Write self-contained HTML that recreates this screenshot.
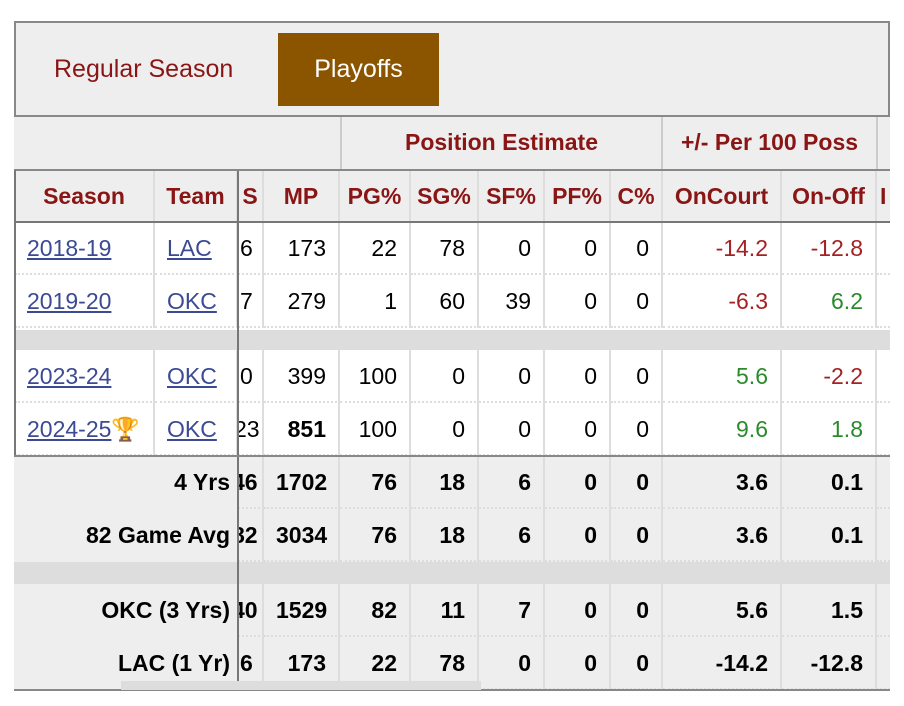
<!DOCTYPE html>
<html><head><meta charset="utf-8">
<style>
body{margin:0;width:904px;height:706px;background:#fff;position:relative;overflow:hidden;font-family:"Liberation Sans","Noto Sans CJK SC",sans-serif;}
.a{position:absolute;box-sizing:border-box;}
.c{position:absolute;box-sizing:border-box;font-size:23px;line-height:53px;height:53px;padding:0 12px;white-space:nowrap;overflow:hidden;border-right:2px solid #ddd;}
.r{text-align:right}.b{font-weight:bold}
.hd{color:#8a1515;font-weight:bold;text-align:center;padding:0 2px;}
a{color:#3b4a93;text-decoration:underline;}
.neg{color:#a52222}.pos{color:#2b8a2b}
</style></head><body>
<div class="a" style="left:14px;top:21px;width:876px;height:96px;background:#eee;border:2px solid #888;"></div>
<div class="a" style="left:54px;top:55px;font-size:25px;color:#8a1515;">Regular Season</div>
<div class="a" style="left:278px;top:33px;width:161px;height:73px;background:#8b5500;color:#fff;font-size:25px;line-height:73px;text-align:center;">Playoffs</div>
<div class="a" style="left:14px;top:117px;width:876px;height:53px;background:#eee;"></div>
<div class="a" style="left:340px;top:117px;width:323px;height:53px;border-left:2px solid #ccc;border-right:2px solid #ccc;color:#8a1515;font-weight:bold;font-size:23px;line-height:50px;text-align:center;">Position Estimate</div>
<div class="a" style="left:663px;top:117px;width:215px;height:53px;border-right:2px solid #ccc;color:#8a1515;font-weight:bold;font-size:23px;line-height:50px;text-align:center;">+/- Per 100 Poss</div>
<div id="t"></div>
<div class="a" style="left:237px;top:170px;width:2px;height:520px;background:#777;"></div>
<div class="a" style="left:14px;top:221px;width:876px;height:2px;background:#777;"></div>
<div class="a" style="left:14px;top:169px;width:876px;height:2px;background:#888;"></div>
<div class="a" style="left:14px;top:170px;width:2px;height:287px;background:#777;"></div>
<div class="a" style="left:14px;top:455px;width:876px;height:2px;background:#888;"></div>
<div class="a" style="left:14px;top:689px;width:876px;height:2px;background:#888;"></div>
<div class="a" style="left:121px;top:681px;width:360px;height:9px;background:#ddd;"></div>
<script>
const cols=[15,155,238,264,340,411,479,545,611,663,782,877,890];
const heads=["Season","Team","S","MP","PG%","SG%","SF%","PF%","C%","OnCourt","On-Off","I"];
const seasons=["2018-19","2019-20","2023-24","2024-25"];
const teams=["LAC","OKC","OKC","OKC"];
const gPart=["6","7","0","23"];
const mp=[173,279,399,851];
const pg=[22,1,100,100];
const sg=[78,60,0,0];
const sf=[0,39,0,0];
const pf=[0,0,0,0];
const cc=[0,0,0,0];
const onCourt=[-14.2,-6.3,5.6,9.6];
const onOff=[-12.8,6.2,-2.2,1.8];
const sumLabels=["4 Yrs","82 Game Avg","OKC (3 Yrs)","LAC (1 Yr)"];
const sumG=["46","82","40","6"];
const sumMp=[1702,3034,1529,173];
const sumPg=[76,76,82,22];
const sumSg=[18,18,11,78];
const sumSf=[6,6,7,0];
const sumOn=[3.6,3.6,5.6,-14.2];
const sumOff=[0.1,0.1,1.5,-12.8];
const T=document.getElementById('t');
function cell(ci,top,html,cls,bg){
  const d=document.createElement('div');
  d.className='c '+cls;
  d.style.left=cols[ci]+'px';d.style.top=top+'px';d.style.width=(cols[ci+1]-cols[ci])+'px';
  if(bg)d.style.background=bg;
  if(ci==11){d.style.padding='0 0 0 3px';d.style.borderRight='none';d.style.textAlign='left';}
  d.innerHTML=html;
  T.appendChild(d);return d;
}
function band(top,h,bg,name){
  const d=document.createElement('div');d.className='a';
  d.style.cssText='left:14px;top:'+top+'px;width:876px;height:'+h+'px;background:'+bg;
  
  
  T.appendChild(d);
}
band(170,52,'#eee','column-header-row');
heads.forEach((h,i)=>{const d=cell(i,170,h,'hd');
  
  });
const rowTops=[222,275,350,403];
band(330,20,'#ddd','spacer-row');
band(562,22,'#ddd','summary-spacer-row');
const fmt=v=>Number.isInteger(v)?String(v):v.toFixed(1);
seasons.forEach((s,i)=>{
  const t=rowTops[i];
  band(t,53,'#fff','season-row-'+s);
  const vals=[
    '<a>'+s+'</a>'+(i==3?'🏆':''),'<a>'+teams[i]+'</a>',gPart[i],
    i==3?'<b>'+mp[i]+'</b>':mp[i],pg[i],sg[i],sf[i],pf[i],cc[i],
    '<span class="'+(onCourt[i]<0?'neg':'pos')+'">'+fmt(onCourt[i])+'</span>',
    '<span class="'+(onOff[i]<0?'neg':'pos')+'">'+fmt(onOff[i])+'</span>',''];
  vals.forEach((v,ci)=>{const d=cell(ci,t,v,ci<2?'':'r');
    if(ci==2){d.style.padding='0 0 0 2px';d.style.textAlign='left';}
    if(ci==2&&i==3){d.style.textIndent='-6px';}
    d.style.borderBottom='2px dotted #ddd';
    
    });
});
const sumTops=[456,509,584,637];
sumLabels.forEach((l,i)=>{
  const t=sumTops[i];
  band(t,53,'#eee','summary-row-'+i);
  const lab=document.createElement('div');lab.className='c r b';
  lab.style.cssText='left:15px;top:'+t+'px;width:223px;border-right:none;padding-right:8px;';
  lab.textContent=l;
  
  
  T.appendChild(lab);
  const vals=[sumG[i],sumMp[i],sumPg[i],sumSg[i],sumSf[i],0,0,fmt(sumOn[i]),fmt(sumOff[i]),''];
  vals.forEach((v,k)=>{const ci=k+2;const d=cell(ci,t,v,'r b','#eee');
    if(ci==2){d.style.padding='0 0 0 2px';d.style.textAlign='left';d.style.textIndent=(v.length>1?'-8px':'0');}
    d.style.borderBottom='2px dotted #ddd';
    
    });
});
</script>
</body></html>
